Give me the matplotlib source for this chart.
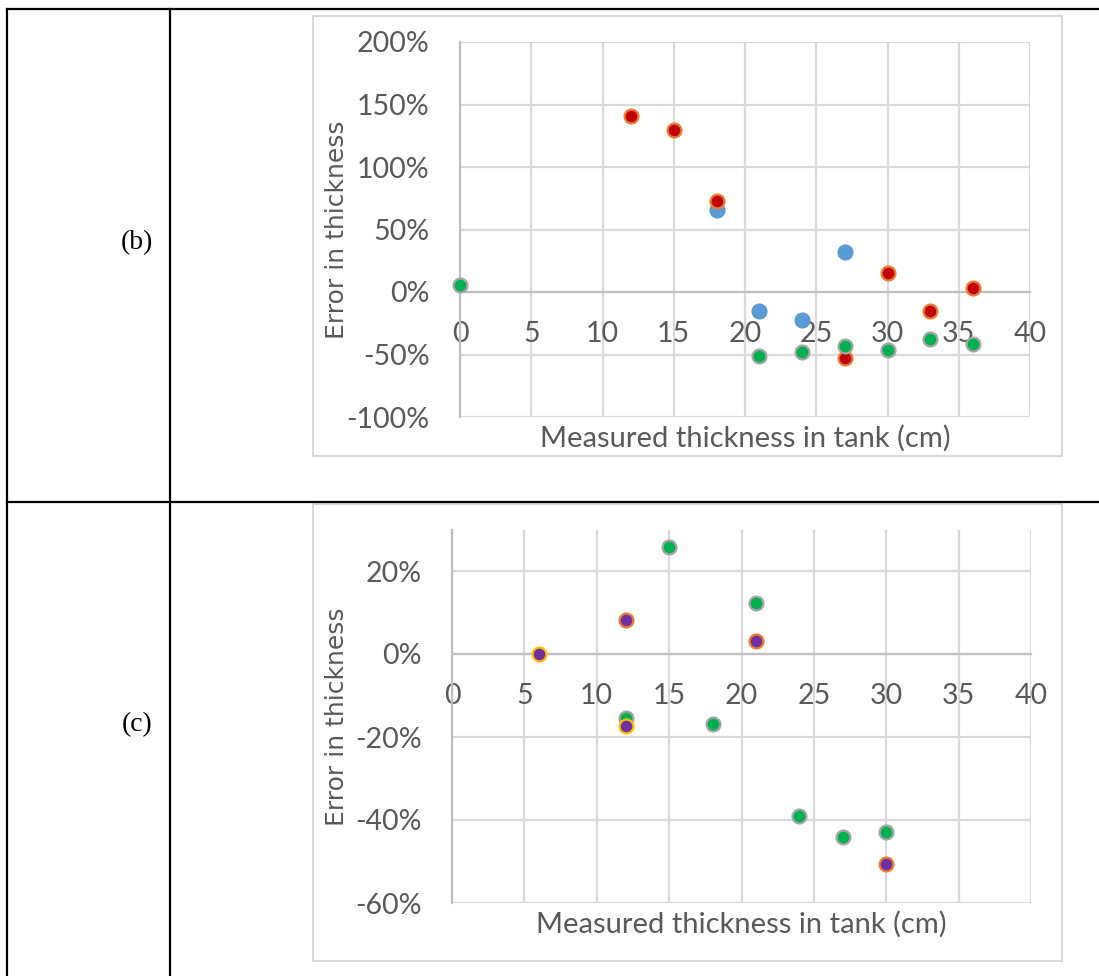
import matplotlib
matplotlib.use("Agg")
import matplotlib.pyplot as plt
from matplotlib.ticker import FuncFormatter
from matplotlib.lines import Line2D
from matplotlib.patches import Rectangle

# ---------------- data ----------------
x_ticks = [0, 5, 10, 15, 20, 25, 30, 35, 40]

# panel (b)
b_blue_x = [18, 21, 24, 27]
b_blue_y = [0.66, -0.15, -0.22, 0.32]
b_red_x = [12, 15, 18, 27, 30, 33, 36]
b_red_y = [1.41, 1.30, 0.73, -0.527, 0.155, -0.15, 0.035]
b_green_x = [0, 21, 24, 27, 30, 33, 36]
b_green_y = [0.056, -0.51, -0.476, -0.43, -0.46, -0.377, -0.414]
b_y_ticks = [-1.0, -0.5, 0.0, 0.5, 1.0, 1.5, 2.0]

# panel (c)
c_green_x = [12, 15, 18, 21, 24, 27, 30]
c_green_y = [-0.155, 0.258, -0.168, 0.124, -0.391, -0.44, -0.428]
c_orange_x = [12, 21, 30]
c_orange_y = [0.083, 0.032, -0.507]
c_gold_x = [6, 12]
c_gold_y = [0.0, -0.174]
c_y_ticks = [-0.6, -0.4, -0.2, 0.0, 0.2]

panel_labels = ["(b)", "(c)"]
x_title = "Measured thickness in tank (cm)"
y_title = "Error in thickness"

# ---------------- style ----------------
W, H = 1099, 976
fig = plt.figure(figsize=(W / 100, H / 100), dpi=100)

TXT = "#595959"
GRID = "#D9D9D9"
AXIS = "#BFBFBF"
TICK_FONT = "Lato"


def fx(v):
    return v / W


def fy(v):
    return 1 - v / H


def px_ax(left, right, top, bottom):
    return fig.add_axes([left / W, 1 - bottom / H, (right - left) / W, (bottom - top) / H])


pct = FuncFormatter(lambda v, p: f"{v * 100:.0f}%".replace("\u2212", "-"))


def style_axes(ax, ylim, yticks, top, bottom):
    ax.set_xlim(0, 40)
    ax.set_ylim(*ylim)
    ax.set_xticks(x_ticks)
    ax.set_yticks(yticks)
    ax.yaxis.set_major_formatter(pct)
    ax.grid(True, color=GRID, linewidth=1.6, zorder=0)
    ax.set_axisbelow(True)
    for s in ["top", "right"]:
        ax.spines[s].set_visible(False)
    ax.spines["bottom"].set_position(("data", 0))
    ax.spines["bottom"].set_color(AXIS)
    ax.spines["left"].set_color(AXIS)
    ax.spines["bottom"].set_linewidth(1.6)
    ax.spines["left"].set_linewidth(1.6)
    ax.tick_params(length=0, labelcolor=TXT, labelsize=20.5)
    ax.tick_params(axis="y", pad=22)
    ax.tick_params(axis="x", pad=21)
    for lab in ax.get_xticklabels() + ax.get_yticklabels():
        lab.set_fontfamily(TICK_FONT)
    fig.text(fx(337), fy((top + bottom) / 2), y_title, rotation=90,
             ha="center", va="center", fontsize=18, color=TXT,
             family="DejaVu Sans")
    ax.annotate(x_title, xy=(0.5, 0), xycoords="axes fraction",
                xytext=(0, -15), textcoords="offset points",
                ha="center", va="center", fontsize=21, color=TXT,
                family=TICK_FONT)


def pts(ax, x, y, face, edge):
    ax.plot(x, y, linestyle="none", marker="o", markersize=10,
            markerfacecolor=face, markeredgecolor=edge, markeredgewidth=1.6,
            clip_on=False, zorder=3)


# panel (b)
axb = px_ax(460, 1030, 42, 417)
style_axes(axb, (-1.0, 2.0), b_y_ticks, 42, 417)
pts(axb, b_blue_x, b_blue_y, "#5B9BD5", "#5B9BD5")
pts(axb, b_red_x, b_red_y, "#C00000", "#ED7D31")
pts(axb, b_green_x, b_green_y, "#00B050", "#A5A5A5")

# panel (c)
axc = px_ax(452, 1031, 529.5, 903)
style_axes(axc, (-0.6, 0.3), c_y_ticks, 529.5, 903)
pts(axc, c_green_x, c_green_y, "#00B050", "#A5A5A5")
pts(axc, c_orange_x, c_orange_y, "#7030A0", "#ED7D31")
pts(axc, c_gold_x, c_gold_y, "#7030A0", "#FFC000")

# ---------------- chart boxes and table lines ----------------
for top, bot in [(16, 456), (504, 961)]:
    fig.patches.append(Rectangle((fx(313), fy(bot)), fx(1062) - fx(313), fy(top) - fy(bot),
                                 transform=fig.transFigure, fill=False,
                                 edgecolor=GRID, linewidth=1.4))

lw = 1.6
fig.add_artist(Line2D([fx(7), 1], [fy(9), fy(9)], color="black", linewidth=lw))
fig.add_artist(Line2D([fx(7), 1], [fy(502), fy(502)], color="black", linewidth=lw))
fig.add_artist(Line2D([fx(7), fx(7)], [fy(9), 0], color="black", linewidth=lw))
fig.add_artist(Line2D([fx(170), fx(170)], [fy(9), 0], color="black", linewidth=lw))

fig.text(fx(137), fy(243), panel_labels[0], ha="center", va="center",
         fontsize=20, family="Liberation Serif", color="black")
fig.text(fx(137), fy(725), panel_labels[1], ha="center", va="center",
         fontsize=20, family="Liberation Serif", color="black")

fig.savefig("out.png", dpi=100)
